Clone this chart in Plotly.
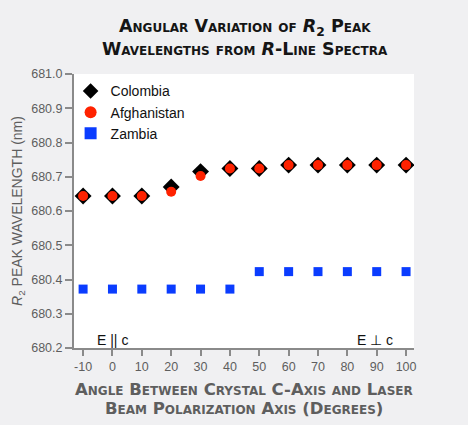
import plotly.graph_objects as go

angles = [-10, 0, 10, 20, 30, 40, 50, 60, 70, 80, 90, 100]
angle_labels = ["-10", "0", "10", "20", "30", "40", "50", "60", "70", "80", "90", "100"]
colombia = [680.644, 680.644, 680.644, 680.670, 680.715, 680.724, 680.724,
            680.734, 680.734, 680.734, 680.734, 680.734]
afghanistan = [680.644, 680.644, 680.644, 680.656, 680.702, 680.724, 680.724,
               680.734, 680.734, 680.734, 680.734, 680.734]
zambia = [680.372, 680.372, 680.372, 680.372, 680.372, 680.372, 680.423,
          680.423, 680.423, 680.423, 680.423, 680.423]

title_lines = ["<b>Angular Variation of <i>R</i><sub>2</sub> Peak</b>",
               "<b>Wavelengths from <i>R</i>-Line Spectra</b>"]
xtitle_lines = ["<b>Angle Between Crystal C-Axis and Laser</b>",
                "<b>Beam Polarization Axis (Degrees)</b>"]

PAPER = "#f0f0f2"
GREY_TEXT = "#5e5e5e"
AXIS_GREY = "#8a8a8a"
HEAD_FONT = "'DejaVu Sans', 'Open Sans', sans-serif"
TICK_FONT = "'Liberation Sans', Arial, sans-serif"

fig = go.Figure()
fig.add_trace(go.Scatter(
    x=angles, y=colombia, mode="markers", name="Colombia",
    marker=dict(symbol="diamond", size=13, color="#000000"),
))
fig.add_trace(go.Scatter(
    x=angles, y=afghanistan, mode="markers", name="Afghanistan",
    marker=dict(symbol="circle", size=10, color="#ff2200"),
))
fig.add_trace(go.Scatter(
    x=angles, y=zambia, mode="markers", name="Zambia",
    marker=dict(symbol="square", size=9, color="#0a3cff"),
))

# polarization labels inside the plot
fig.add_annotation(x=0, y=680.222, text="E || c", showarrow=False,
                   font=dict(family=TICK_FONT, size=14, color="#111111"))
fig.add_annotation(x=89.3, y=680.222, text="E \u22a5 c", showarrow=False,
                   font=dict(family=TICK_FONT, size=14, color="#111111"))

# two-line chart title
for text, ypos in zip(title_lines, [1.168, 1.092]):
    fig.add_annotation(
        x=0.503, y=ypos, xref="paper", yref="paper", text=text,
        showarrow=False, xanchor="center", yanchor="middle",
        font=dict(family=HEAD_FONT, size=17.5, color="#151515",
                  variant="small-caps"),
    )

# two-line x axis title
for text, ypos in zip(xtitle_lines, [-0.153, -0.22]):
    fig.add_annotation(
        x=0.5, y=ypos, xref="paper", yref="paper", text=text,
        showarrow=False, xanchor="center", yanchor="middle",
        font=dict(family=HEAD_FONT, size=16.5, color=GREY_TEXT,
                  variant="small-caps"),
    )

fig.update_layout(
    width=468,
    height=425,
    paper_bgcolor=PAPER,
    plot_bgcolor="#ffffff",
    margin=dict(l=74, r=54, t=74, b=77),
    showlegend=True,
    legend=dict(
        x=-0.01, y=0.995, xanchor="left", yanchor="top",
        bgcolor="rgba(0,0,0,0)",
        font=dict(family=TICK_FONT, size=14, color="#111111"),
        itemsizing="constant", tracegroupgap=0,
    ),
    xaxis=dict(
        range=[-13.1, 102.7], tickmode="array", tickvals=angles,
        ticktext=angle_labels, automargin=False,
        ticks="outside", ticklen=6, tickwidth=2, tickcolor=AXIS_GREY,
        showline=True, linecolor=AXIS_GREY, linewidth=2, showgrid=False,
        zeroline=False,
        tickfont=dict(family=TICK_FONT, size=12.5, color=GREY_TEXT),
    ),
    yaxis=dict(
        range=[680.2, 681.0], dtick=0.1, tickformat=".1f", automargin=False,
        ticks="outside", ticklen=7, tickwidth=2, tickcolor=AXIS_GREY,
        showline=True, linecolor=AXIS_GREY, linewidth=2, showgrid=False,
        zeroline=False,
        tickfont=dict(family=TICK_FONT, size=12.5, color=GREY_TEXT),
        title=dict(
            text="<i>R</i><sub>2</sub> PEAK WAVELENGTH (nm)",
            font=dict(family=TICK_FONT, size=14, color=GREY_TEXT),
            standoff=5,
        ),
    ),
)

# drop the browser's default page margin so the figure sits at the window corner
fig.write_html(
    "out.html",
    config={"displayModeBar": False},
    post_script=f"document.body.style.margin='0';"
                f"document.body.style.background='{PAPER}';",
)
